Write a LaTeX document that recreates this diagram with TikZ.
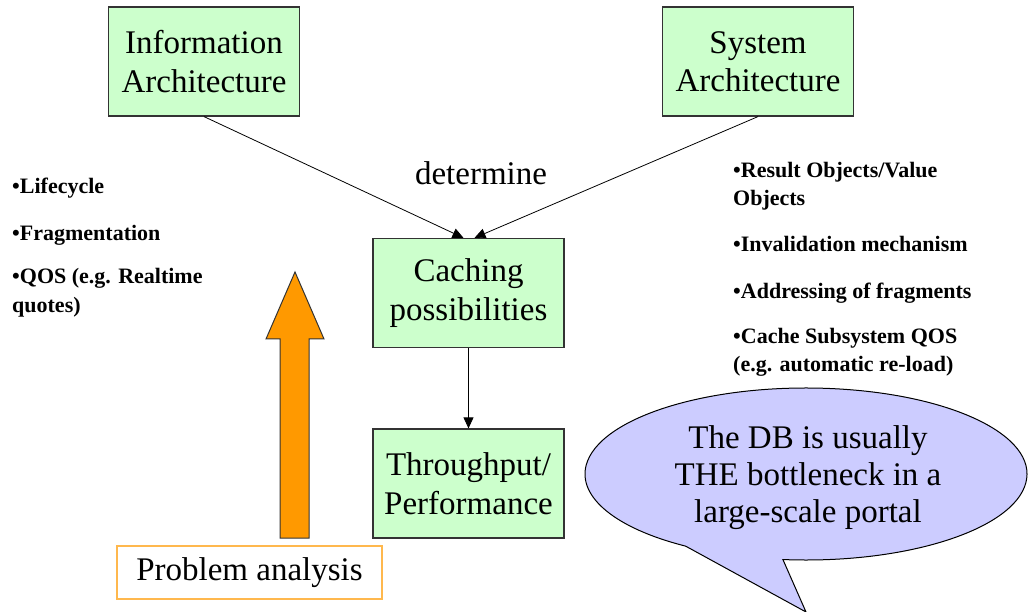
\documentclass[tikz,border=0pt]{standalone}
\usepackage{fontspec}
\setmainfont{Liberation Serif}
\newfontfamily\timesface{Liberation Serif}
\usetikzlibrary{arrows.meta}
\definecolor{boxgreen}{HTML}{CCFFCC}
\definecolor{calloutblue}{HTML}{CCCCFF}
\definecolor{arroworange}{HTML}{FF9900}
\definecolor{frameorange}{HTML}{FFB84D}
\definecolor{edgegrey}{HTML}{333333}
\definecolor{shadowgrey}{HTML}{858585}

\begin{document}
\begin{tikzpicture}[x=1pt,y=-1pt,
  stagebox/.style={draw=edgegrey, line width=1.2pt, fill=boxgreen,
    minimum width=191pt, minimum height=109pt, inner sep=0pt,
    align=center, font=\timesface\fontsize{33}{38.5}\selectfont},
  bullets/.style={anchor=north west, inner sep=0pt, align=left,
    font=\timesface\fontsize{22}{28.5}\selectfont\bfseries},
  bigtext/.style={inner sep=0pt, align=center,
    font=\timesface\fontsize{33}{37}\selectfont},
  conn/.style={draw=black, line width=0.8pt,
    -{Triangle[length=11pt,width=10pt]}},
]
\useasboundingbox (0,0) rectangle (1029,612);

% process boxes
\node[stagebox] (info)  at (204,61.5)    {Information\\Architecture};
\node[stagebox] (sys)   at (758,61.5)    {System\\Architecture};
\node[stagebox] (cache) at (468.5,293)   {Caching\\possibilities};
\node[stagebox] (thru)  at (468.5,483.5) {Throughput/\\Performance};

\node[bigtext] (det) at (481,173) {determine};

% connectors
\draw[conn] (info.south) -- ([xshift=-5pt]cache.north);
\draw[conn] (sys.south)  -- ([xshift=6pt]cache.north);
\draw[conn] (cache.south) -- (thru.north);

% side notes
\node[bullets] (leftnotes) at (12,178)
  {•Lifecycle\\[18.5pt]•Fragmentation\\[14.5pt]•QOS (e.g. Realtime\\quotes)};
\node[bullets] (rightnotes) at (733,162)
  {•Result Objects/Value\\Objects\\[17pt]•Invalidation mechanism\\[18.5pt]%
   •Addressing of fragments\\[16.5pt]•Cache Subsystem QOS\\(e.g. automatic re-load)};

% problem analysis label with the block arrow above it
\node[draw=frameorange, line width=1.3pt, fill=white, minimum width=265pt,
  minimum height=53pt, inner sep=0pt, font=\timesface\fontsize{33}{38}\selectfont]
  (prob) at (249.5,572.5) {Problem analysis};
\coordinate (atip) at (295,272);
\draw[draw=edgegrey, line width=1pt, fill=arroworange, line join=miter]
  (atip) -- (324,339) -- (309,339) -- (309,538) -- (280,538) -- (280,339)
  -- (266,339) -- cycle;

% speech bubble
\coordinate (cc) at (806,474);
\coordinate (tip) at (806,612);
\fill[shadowgrey, shift={(5,5)}]
  (cc) ++(96:221 and 86)
  arc[start angle=96, end angle=-237, x radius=221, y radius=86]
  -- (tip) -- cycle;
\draw[fill=calloutblue, draw=black, line width=1pt, line join=miter]
  (cc) ++(96:221 and 86)
  arc[start angle=96, end angle=-237, x radius=221, y radius=86]
  -- (tip) -- cycle;
\node[bigtext] (note) at (808,478)
  {The DB is usually\\THE bottleneck in a\\large-scale portal};
\end{tikzpicture}
\end{document}
